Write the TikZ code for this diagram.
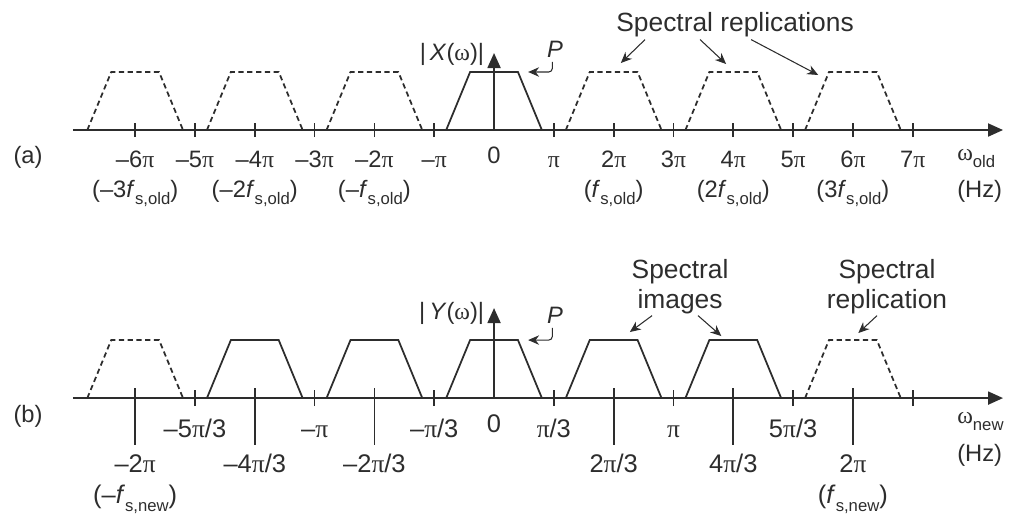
\documentclass[tikz,border=0pt]{standalone}
\usepackage{fontspec}
\setmainfont{Liberation Sans}
\newfontfamily\grkfont{Liberation Serif}
\usepackage{tikz}
\usetikzlibrary{arrows.meta}
\definecolor{inkgray}{RGB}{45,45,45}
\newcommand{\pii}{{\grkfont π}}
\newcommand{\omg}{{\grkfont ω}}
\newcommand{\fsub}[1]{\textit{f}\raisebox{-0.6ex}{\fontsize{9.5}{10}\selectfont s,#1}}
\newcommand{\wsub}[1]{\omg\raisebox{-0.6ex}{\fontsize{9.5}{10}\selectfont #1}}

\begin{document}
\begin{tikzpicture}[
  x=1.196cm, y=1cm,
  axis/.style={line width=1.1pt, draw=inkgray, -{Triangle[length=3mm, width=2.6mm]}},
  tick/.style={line width=1pt, draw=inkgray},
  spec/.style={line width=1pt, draw=inkgray, line join=miter},
  repl/.style={spec, dash pattern=on 3pt off 2pt},
  ptr/.style={line width=0.6pt, draw=inkgray, -{Stealth[length=2.2mm, width=1.9mm]}},
  lbl/.style={font=\fontsize{13.5}{15}\selectfont, text=inkgray, inner sep=0pt, anchor=base},
  lblb/.style={lbl, font=\fontsize{14.5}{16}\selectfont},
  note/.style={font=\fontsize{15}{17}\selectfont, text=inkgray, inner sep=0pt, align=center}
]
\useasboundingbox (-8.26,2.6) rectangle (8.71,-7.74);

% ===== (a) spectrum before resampling =====
\coordinate (ao) at (0,0);
\coordinate (a0) at (-7.04,0);
\coordinate (a1) at (8.51,0);
\coordinate (atop) at (0,1.54);
\draw[axis] (a0) -- (a1);
\draw[axis] (ao) -- (atop);

\foreach \k in {-6,-5,-4,-3,-2,-1,1,2,3,4,5,6,7}
  \draw[tick] (\k,-0.14) -- (\k,0.14);

\draw[spec] (-0.8,0) -- (-0.4,1.16) -- (0.4,1.16) -- (0.8,0);
\foreach \c in {-6,-4,-2,2,4,6}
  \draw[repl] (\c-0.8,0) -- (\c-0.4,1.16) -- (\c+0.4,1.16) -- (\c+0.8,0);

% tick labels
\foreach \k/\t in {-6/–6\pii, -5/–5\pii, -4/–4\pii, -3/–3\pii, -2/–2\pii, -1/–\pii,
                   1/\pii, 2/2\pii, 3/3\pii, 4/4\pii, 5/5\pii, 6/6\pii, 7/7\pii}
  \node[lbl] (ta\k) at (\k,-0.74) {\t};
\node[lbl] (ta0) at (0,-0.66) {0};
\foreach \k/\t in {-6/–3, -4/–2, -2/–, 2/, 4/2, 6/3}
  \node[lbl] (fa\k) at (\k,-1.34) {(\t\fsub{old})};

\node[lbl, anchor=base west] (wa) at (7.74,-0.6) {\wsub{old}};
\node[lbl, anchor=base west] (hza) at (7.74,-1.34) {(Hz)};
\node[lbl, anchor=base west] (tagA) at (-8.04,-0.66) {(a)};
\node[lbl, anchor=base east] (xmag) at (-0.16,1.4) {|\,\textit{X}(\omg)|};

% P marker
\node[lbl, anchor=base west] (pa) at (0.88,1.46) {\textit{P}};
\coordinate (pa-tip) at (0.57,1.16);
\draw[ptr, rounded corners=2pt] ([xshift=-1.5pt, yshift=-2.5pt]pa.south) |- (pa-tip);

% replications callout
\node[note, anchor=base] (sr) at (4.03,1.96) {Spectral replications};
\coordinate (sr-t1) at (2.12,1.34);
\coordinate (sr-t2) at (3.88,1.32);
\coordinate (sr-t3) at (5.42,1.10);
\draw[ptr] ([xshift=-1.80cm, yshift=-1pt]sr.south) -- (sr-t1);
\draw[ptr] ([xshift=-0.70cm, yshift=-1pt]sr.south) -- (sr-t2);
\draw[ptr] ([xshift=0.32cm, yshift=-1pt]sr.south) -- (sr-t3);

% ===== (b) spectrum after upsampling =====
\begin{scope}[yshift=-5.36cm]
\coordinate (bo) at (0,0);
\coordinate (b0) at (-7.04,0);
\coordinate (b1) at (8.51,0);
\coordinate (btop) at (0,1.8);
\draw[axis] (b0) -- (b1);
\draw[axis] (bo) -- (btop);

\foreach \k in {-5,-3,-1,1,3,5,7}
  \draw[tick] (\k,-0.16) -- (\k,0.16);
\foreach \k in {-6,-4,-2,2,4,6}
  \draw[tick] (\k,0.2) -- (\k,-0.94);

\foreach \c in {-4,-2,0,2,4}
  \draw[spec] (\c-0.8,0) -- (\c-0.4,1.16) -- (\c+0.4,1.16) -- (\c+0.8,0);
\foreach \c in {-6,6}
  \draw[repl] (\c-0.8,0) -- (\c-0.4,1.16) -- (\c+0.4,1.16) -- (\c+0.8,0);

% tick labels
\foreach \k/\t in {-5/{–5\pii/3}, -3/{–\pii}, -1/{–\pii/3}, 1/{\pii/3}, 3/{\pii}, 5/{5\pii/3}}
  \node[lblb] (tb\k) at (\k,-0.78) {\t};
\node[lblb] (tb0) at (0,-0.68) {0};
\foreach \k/\t in {-6/{–2\pii}, -4/{–4\pii/3}, -2/{–2\pii/3}, 2/{2\pii/3}, 4/{4\pii/3}, 6/{2\pii}}
  \node[lblb] (lb\k) at (\k,-1.48) {\t};
\node[lblb] (fb-6) at (-6,-2.1) {(–\fsub{new})};
\node[lblb] (fb6) at (6,-2.1) {(\fsub{new})};

\node[lbl, anchor=base west] (wb) at (7.74,-0.5) {\wsub{new}};
\node[lbl, anchor=base west] (hzb) at (7.74,-1.26) {(Hz)};
\node[lbl, anchor=base west] (tagB) at (-8.04,-0.48) {(b)};
\node[lbl, anchor=base east] (ymag) at (-0.16,1.58) {|\,\textit{Y}(\omg)|};

% P marker
\node[lbl, anchor=base west] (pb) at (0.88,1.5) {\textit{P}};
\coordinate (pb-tip) at (0.57,1.16);
\draw[ptr, rounded corners=2pt] ([xshift=-1.5pt, yshift=-2.5pt]pb.south) |- (pb-tip);

% images / replication callouts
\node[note] (si) at (3.11,2.235) {Spectral\\images};
\node[note] (sp) at (6.57,2.235) {Spectral\\replication};
\coordinate (si-t1) at (2.27,1.32);
\coordinate (si-t2) at (3.80,1.24);
\coordinate (sp-t1) at (6.09,1.30);
\draw[ptr] ([xshift=-0.56cm, yshift=-1pt]si.south) -- (si-t1);
\draw[ptr] ([xshift=0.36cm, yshift=-1pt]si.south) -- (si-t2);
\draw[ptr] ([xshift=-0.20cm, yshift=-1pt]sp.south) -- (sp-t1);
\end{scope}

\end{tikzpicture}
\end{document}
